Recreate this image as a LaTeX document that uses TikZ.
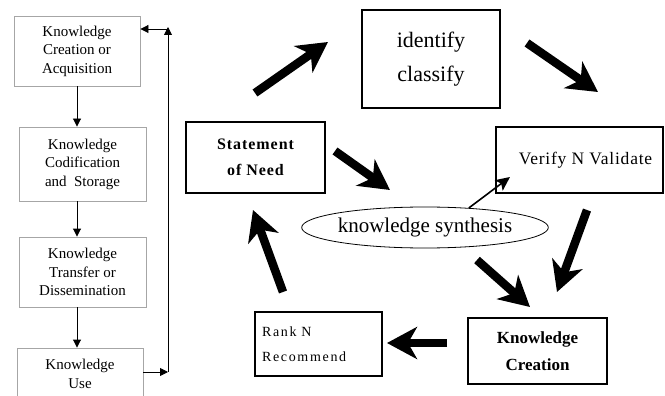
\documentclass[tikz,border=0pt]{standalone}
\usepackage{fontspec}
\setmainfont{Liberation Serif}
\newfontfamily\verifyfont[LetterSpace=4.5]{Liberation Serif}
\newfontfamily\rankfont[LetterSpace=12]{Liberation Serif}
\newfontfamily\stmtfont[LetterSpace=6]{Liberation Serif}
\usetikzlibrary{arrows.meta,shapes.geometric}
\tikzset{
  lbox/.style={draw=black!35, line width=0.9pt, align=center, inner sep=0pt,
    font=\fontsize{15}{18.5}\selectfont},
  thickbox/.style={draw=black, line width=2.3pt, inner sep=0pt},
  medbox/.style={draw=black, line width=1.3pt, inner sep=0pt},
  flow/.style={line width=0.9pt, -{Triangle[length=8pt,width=8pt]}},
  bigarrow/.style={line width=8.5pt, -{Stealth[length=30pt,width=32pt,inset=9pt]}},
  thinarrow/.style={line width=1.6pt, -{Stealth[length=14pt,width=13pt,inset=3pt]}}
}
\begin{document}
\begin{tikzpicture}[x=1pt,y=-1pt]
\useasboundingbox (0,0) rectangle (665,396);
\fill[white] (0,0) rectangle (665,396);

% left chain
\node[lbox, minimum width=126pt, minimum height=70pt] (b1) at (77,51)
  {Knowledge\\Creation or\\Acquisition};
\node[lbox, minimum width=127pt, minimum height=74pt] (b2) at (82.5,164)
  {Knowledge\\Codification\\and\ \ Storage};
\node[lbox, minimum width=127pt, minimum height=70pt] (b3) at (82.5,272)
  {Knowledge\\Transfer or\\Dissemination};
\node[lbox, minimum width=126pt, minimum height=52pt] (b4) at (80,374)
  {Knowledge\\Use};

\draw[flow] (b1.south) -- (b1.south |- b2.north);
\draw[flow] (b2.south -| b1.south) -- (b1.south |- b3.north);
\draw[flow] (b3.south -| b1.south) -- (b1.south |- b4.north);

\coordinate (lb) at (168,372);
\coordinate (lt) at (168,27);
\draw[flow] (b4.east |- lb) -- (lb);
\draw[flow] (lb) -- (lt);
\draw[flow] (168,29) -- (b1.east |- 0,29);

% right cycle
\node[thickbox, minimum width=138pt, minimum height=98pt, align=center,
  font=\fontsize{22}{34}\selectfont] (idc) at (431,59) {\raisebox{-4pt}{identify}\\\raisebox{-4pt}{classify}};
\node[thickbox, minimum width=139pt, minimum height=71pt, align=center,
  font=\stmtfont\bfseries\fontsize{16}{26}\selectfont] (stm) at (255.5,157.5) {Statement\\of Need};
\node[thickbox, minimum width=167pt, minimum height=66pt,
  font=\verifyfont\fontsize{17.5}{20}\selectfont] (ver) at (579.5,160) {\hspace*{12pt}Verify N Validate};
\node[ellipse, draw=black, line width=0.8pt, minimum width=216pt, minimum height=41pt, inner sep=0pt,
  font=\fontsize{21}{24}\selectfont] (syn) at (425,227.5) {knowledge synthesis};
\node[medbox, minimum width=127pt, minimum height=64pt, align=left, text width=113pt,
  font=\rankfont\fontsize{14}{25}\selectfont] (rank) at (318.5,344) {Rank N\\Recommend};
\node[medbox, minimum width=139pt, minimum height=66pt, align=center,
  font=\bfseries\fontsize{17}{27}\selectfont] (kc) at (537.5,351) {Knowledge\\Creation};

% thick arrows
\coordinate (a1s) at (255,93);  \coordinate (a1e) at (328,42);
\coordinate (a2s) at (527,43);  \coordinate (a2e) at (598,92);
\coordinate (a3s) at (335,151); \coordinate (a3e) at (390,190);
\coordinate (a4s) at (587,210); \coordinate (a4e) at (557,292);
\coordinate (a5s) at (477,260); \coordinate (a5e) at (530,307);
\coordinate (a6s) at (447,343); \coordinate (a6e) at (387,343);
\coordinate (a7s) at (283,292); \coordinate (a7e) at (253,210);
\draw[bigarrow] (a1s) -- (a1e);
\draw[bigarrow] (a2s) -- (a2e);
\draw[bigarrow] (a3s) -- (a3e);
\draw[bigarrow] (a4s) -- (a4e);
\draw[bigarrow] (a5s) -- (a5e);
\draw[bigarrow] (a6s) -- (a6e);
\draw[bigarrow] (a7s) -- (a7e);

% thin arrow from synthesis to verify
\coordinate (vt) at (510,177);
\draw[thinarrow] (syn.24) -- (vt);
\end{tikzpicture}
\end{document}
